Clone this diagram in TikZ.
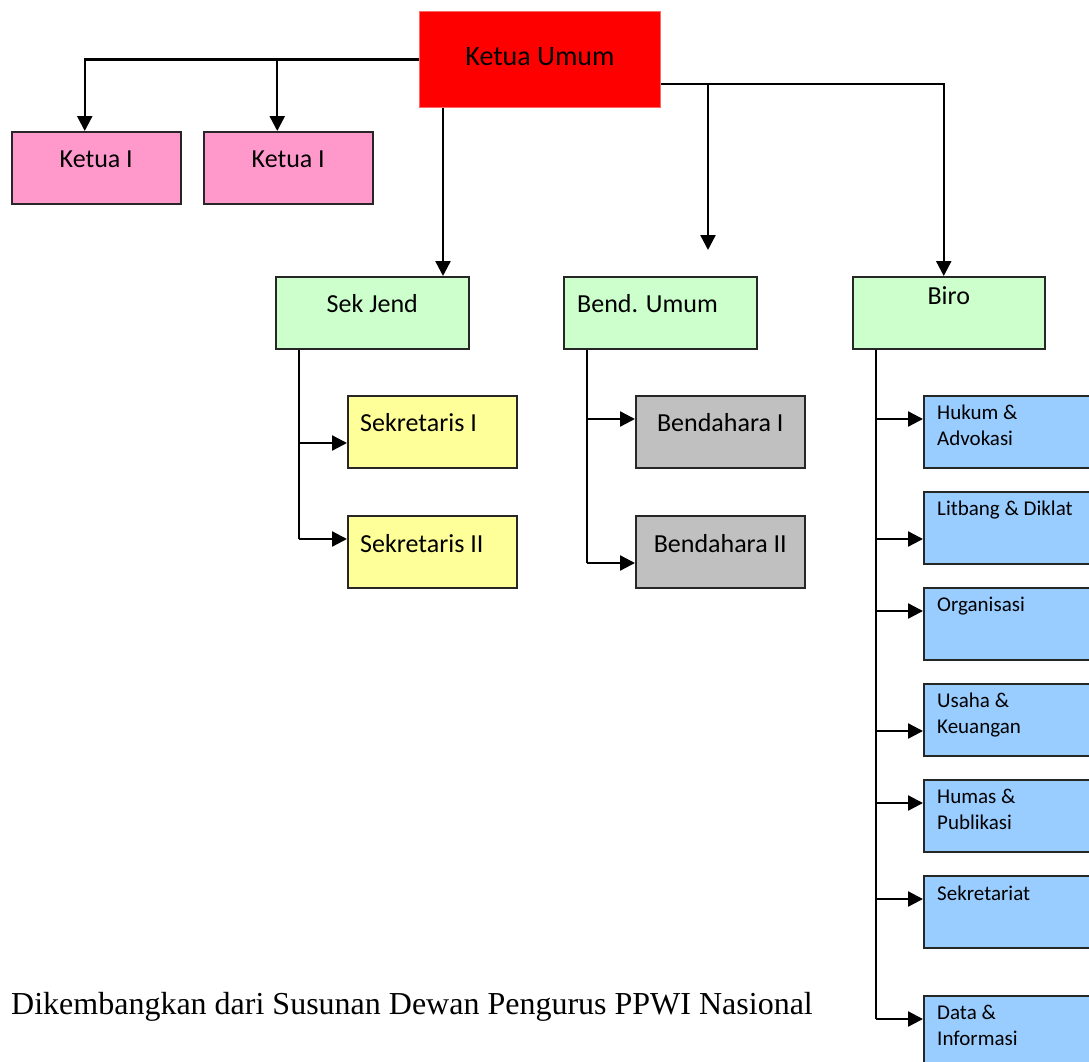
\documentclass[tikz,border=0pt]{standalone}
\usepackage{fontspec}
\setmainfont{Carlito}
\newfontfamily\capfont{Liberation Serif}
\usetikzlibrary{arrows.meta,calc}
\definecolor{kured}{HTML}{FF0000}
\definecolor{kuborder}{HTML}{FF6666}
\definecolor{kpink}{HTML}{FF99CC}
\definecolor{kgreen}{HTML}{CCFFCC}
\definecolor{kyellow}{HTML}{FFFF99}
\definecolor{kgray}{HTML}{C0C0C0}
\definecolor{kblue}{HTML}{99CCFF}
\definecolor{kedge}{HTML}{262626}
\tikzset{
  box/.style={draw=kedge, line width=1.5pt, rectangle, inner sep=0pt, anchor=north west, minimum width=169pt, minimum height=72pt},
  bigbox/.style={box, minimum width=193pt},
  bluebox/.style={box, fill=kblue, minimum width=180pt},
  conn/.style={line width=2.4pt, black},
  arr/.style={conn, -{Triangle[length=15pt,width=15pt]}},
  txt/.style={inner sep=0pt, font=\fontsize{26}{31}\selectfont},
  stxt/.style={inner sep=0pt, font=\fontsize{21}{26}\selectfont, anchor=base west},
}
\begin{document}
\begin{tikzpicture}[x=1pt,y=-1pt]
\useasboundingbox (0,0) rectangle (1089,1061);
\clip (0,0) rectangle (1089,1061);
% boxes
\node[box, draw=kuborder, line width=1pt, fill=kured, minimum width=241pt, minimum height=96pt] (ku) at (419,11) {};
\node[box, fill=kpink] (k1) at (11,131) {};
\node[box, fill=kpink] (k2) at (203,131) {};
\node[bigbox, fill=kgreen] (sj) at (275,276) {};
\node[bigbox, fill=kgreen] (bu) at (563,276) {};
\node[bigbox, fill=kgreen, minimum width=192pt] (biro) at (852,276) {};
\node[box, fill=kyellow] (s1) at (347,395) {};
\node[box, fill=kyellow] (s2) at (347,515) {};
\node[box, fill=kgray] (b1) at (635,395) {};
\node[box, fill=kgray] (b2) at (635,515) {};
\node[bluebox] (h1) at (923,395) {};
\node[bluebox] (h2) at (923,491) {};
\node[bluebox] (h3) at (923,587) {};
\node[bluebox] (h4) at (923,683) {};
\node[bluebox] (h5) at (923,779) {};
\node[bluebox] (h6) at (923,875) {};
\node[bluebox] (h7) at (923,995) {};
% texts
\node[txt, anchor=base, font=\fontsize{28}{33}\selectfont] at ([yshift=-54pt]ku.north) {Ketua Umum};
\node[txt, anchor=base] at ([yshift=-36pt]k1.north) {Ketua I};
\node[txt, anchor=base] at ([yshift=-36pt]k2.north) {Ketua I};
\node[txt, anchor=base] at ([yshift=-36pt]sj.north) {Sek Jend};
\node[txt, anchor=base west] at ([xshift=14pt,yshift=-36pt]bu.north west) {Bend. Umum};
\node[txt, anchor=base] at ([yshift=-28pt]biro.north) {Biro};
\node[txt, anchor=base west] at ([xshift=13pt,yshift=-36pt]s1.north west) {Sekretaris I};
\node[txt, anchor=base west] at ([xshift=13pt,yshift=-37pt]s2.north west) {Sekretaris II};
\node[txt, anchor=base] at ([yshift=-36pt]b1.north) {Bendahara I};
\node[txt, anchor=base] at ([yshift=-37pt]b2.north) {Bendahara II};
\node[stxt] at ([xshift=14pt,yshift=-24pt]h1.north west) {Hukum \&};
\node[stxt] at ([xshift=14pt,yshift=-50pt]h1.north west) {Advokasi};
\node[stxt] at ([xshift=14pt,yshift=-24pt]h2.north west) {Litbang \& Diklat};
\node[stxt] at ([xshift=14pt,yshift=-24pt]h3.north west) {Organisasi};
\node[stxt] at ([xshift=14pt,yshift=-24pt]h4.north west) {Usaha \&};
\node[stxt] at ([xshift=14pt,yshift=-50pt]h4.north west) {Keuangan};
\node[stxt] at ([xshift=14pt,yshift=-24pt]h5.north west) {Humas \&};
\node[stxt] at ([xshift=14pt,yshift=-50pt]h5.north west) {Publikasi};
\node[stxt] at ([xshift=14pt,yshift=-25pt]h6.north west) {Sekretariat};
\node[stxt] at ([xshift=14pt,yshift=-24pt]h7.north west) {Data \&};
\node[stxt] at ([xshift=14pt,yshift=-50pt]h7.north west) {Informasi};
\node[inner sep=0pt, anchor=base west, font=\capfont\fontsize{32}{38}\selectfont] (cap) at (11,1014) {Dikembangkan dari Susunan Dewan Pengurus PPWI Nasional};
% connectors from Ketua Umum
\coordinate (kue) at ($(ku.south east)!0.25!(ku.north east)$);
\draw[arr] (ku.west) -| ([xshift=-11.5pt]k1.north);
\draw[arr] (ku.west -| k2.north) ++(-11pt,0) -- ([xshift=-11pt]k2.north);
\draw[arr] ([xshift=24pt]ku.south west) -- ([xshift=24pt]ku.south west |- sj.north);
\draw[arr] (kue) -| ([xshift=-5pt]biro.north);
\coordinate (dang) at (708,250);
\draw[arr] (kue -| dang) -- (dang);
% Sek Jend branch
\coordinate (sjv) at ([xshift=24pt]sj.south west);
\coordinate (s1a) at ([yshift=-48pt]s1.north west);
\coordinate (s2a) at ([yshift=-24pt]s2.north west);
\draw[conn] (sjv) -- (sjv |- s2a);
\draw[arr] (sjv |- s1a) -- (s1a);
\draw[arr] (sjv |- s2a) -- (s2a);
% Bend branch
\coordinate (buv) at ([xshift=24pt]bu.south west);
\coordinate (b1a) at ([yshift=-24pt]b1.north west);
\coordinate (b2a) at ([yshift=-48pt]b2.north west);
\draw[conn] (buv) -- (buv |- b2a);
\draw[arr] (buv |- b1a) -- (b1a);
\draw[arr] (buv |- b2a) -- (b2a);
% Biro branch
\coordinate (bv) at ([xshift=24pt]biro.south west);
\coordinate (h1a) at ([yshift=-24pt]h1.north west);
\coordinate (h2a) at ([yshift=-48pt]h2.north west);
\coordinate (h3a) at ([yshift=-24pt]h3.north west);
\coordinate (h4a) at ([yshift=-48pt]h4.north west);
\coordinate (h5a) at ([yshift=-24pt]h5.north west);
\coordinate (h6a) at ([yshift=-24pt]h6.north west);
\coordinate (h7a) at ([yshift=-24pt]h7.north west);
\draw[conn] (bv) -- (bv |- h7a);
\foreach \h in {h1a,h2a,h3a,h4a,h5a,h6a,h7a}{\draw[arr] (bv |- \h) -- (\h);}
\end{tikzpicture}
\end{document}
